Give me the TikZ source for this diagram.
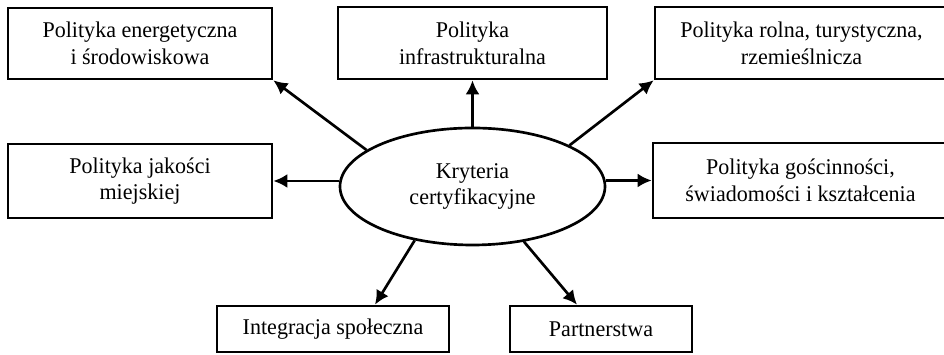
\documentclass[tikz,border=0pt]{standalone}
\usepackage{fontspec}
\setmainfont{Liberation Serif}[FakeStretch=0.98]
\usetikzlibrary{arrows.meta,shapes.geometric}

\begin{document}
\begin{tikzpicture}[
            > = {Latex[length=10pt,width=10pt]}, % arrow head style
            line width = 1.9pt, % line style
            font = \fontsize{16}{19}\selectfont,
            box/.style = {shape=rectangle, draw=black, align=center, inner sep=0pt}
        ]
\useasboundingbox (0,0) rectangle (23.6,8.875);

\node[shape=ellipse,draw=black,align=center,inner sep=0pt,minimum width=6.625cm,minimum height=2.925cm] (K) at (11.8125,4.2125) {Kryteria\\certyfikacyjne};

\node[box,minimum width=6.6cm,minimum height=1.775cm] (E) at (3.5,7.7875) {Polityka energetyczna\\i środowiskowa};
\node[box,minimum width=6.725cm,minimum height=1.8cm] (I) at (11.8125,7.8) {Polityka\\infrastrukturalna};
\node[box,minimum width=7.325cm,minimum height=1.8cm] (R) at (20.0375,7.8) {Polityka rolna, turystyczna,\\rzemieślnicza};
\node[box,minimum width=6.6cm,minimum height=1.85cm] (J) at (3.5,4.35) {Polityka jakości\\miejskiej};
\node[box,minimum width=7.375cm,minimum height=1.875cm] (G) at (20.0125,4.3625) {Polityka gościnności,\\świadomości i kształcenia};
\node[box,minimum width=5.8cm,minimum height=1.15cm] (S) at (8.325,0.65) {Integracja społeczna};
\node[box,minimum width=4.55cm,minimum height=1.15cm] (P) at (15.025,0.65) {Partnerstwa};

 \path [->] (K.161) edge (E.south east);
 \path [->] (K.north) edge (I.south);
 \path [->] (K.23) edge (R.south west);
 \path [->] (J.east -| K.west) edge (J.east);
 \path [->] (G.west -| K.east) edge (G.west);
 \path [->] (K.223) edge ([xshift=1.05cm]S.north);
 \path [->] (K.313) edge ([xshift=-0.6cm]P.north);
\end{tikzpicture}
\end{document}
